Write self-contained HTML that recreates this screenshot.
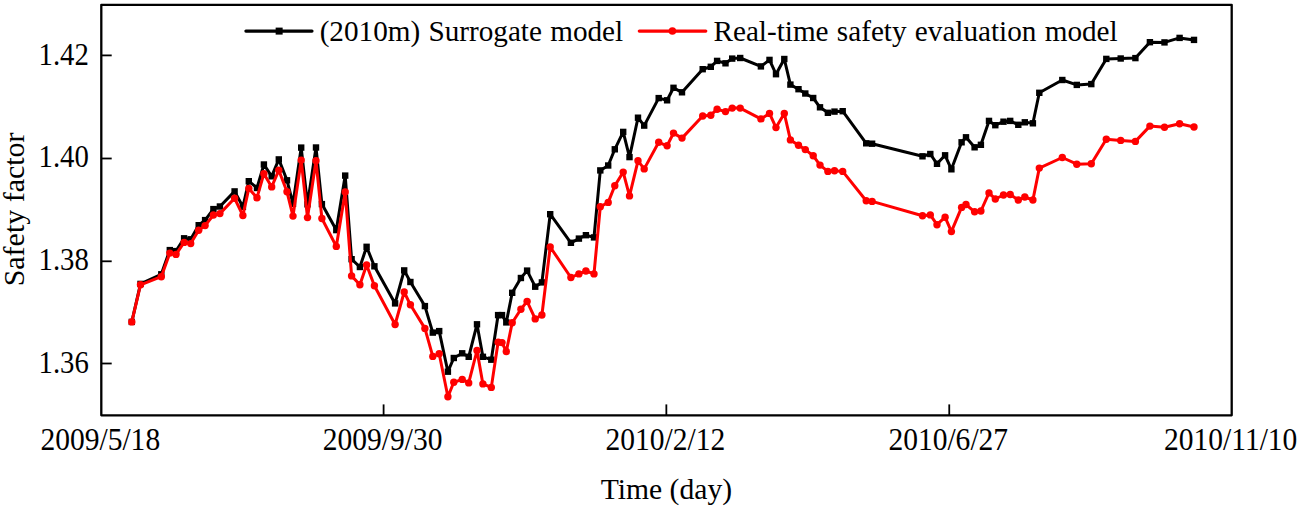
<!DOCTYPE html><html><head><meta charset="utf-8"><title>Safety factor</title>
<style>html,body{margin:0;padding:0;background:#fff;overflow:hidden}svg{display:block}text{font-family:"Liberation Serif","Times New Roman",serif;font-size:29.2px;fill:#000}</style></head><body>
<svg width="1301" height="509" viewBox="0 0 1301 509">
<rect width="1301" height="509" fill="#fff"/>
<rect x="101.3" y="4.8" width="1130.4" height="410.5" fill="none" stroke="#000" stroke-width="2.3" stroke-linejoin="round"/>
<line x1="101.3" y1="55.4" x2="111.7" y2="55.4" stroke="#000" stroke-width="1.8"/>
<text transform="translate(88.85 64.6) scale(0.985 1.055)" text-anchor="end">1.42</text>
<line x1="101.3" y1="158.5" x2="111.7" y2="158.5" stroke="#000" stroke-width="1.8"/>
<text transform="translate(88.85 167.35) scale(0.985 1.055)" text-anchor="end">1.40</text>
<line x1="101.3" y1="261.3" x2="111.7" y2="261.3" stroke="#000" stroke-width="1.8"/>
<text transform="translate(88.85 270.3) scale(0.985 1.055)" text-anchor="end">1.38</text>
<line x1="101.3" y1="363.5" x2="111.7" y2="363.5" stroke="#000" stroke-width="1.8"/>
<text transform="translate(88.85 372.5) scale(0.985 1.055)" text-anchor="end">1.36</text>
<text transform="translate(100.3 450.15) scale(1.011 1.055)" text-anchor="middle">2009/5/18</text>
<line x1="383.6" y1="415.3" x2="383.6" y2="404.40000000000003" stroke="#000" stroke-width="1.8"/>
<text transform="translate(382.6 450.15) scale(1.011 1.055)" text-anchor="middle">2009/9/30</text>
<line x1="666.35" y1="415.3" x2="666.35" y2="404.40000000000003" stroke="#000" stroke-width="1.8"/>
<text transform="translate(665.35 450.15) scale(1.011 1.055)" text-anchor="middle">2010/2/12</text>
<line x1="949.25" y1="415.3" x2="949.25" y2="404.40000000000003" stroke="#000" stroke-width="1.8"/>
<text transform="translate(948.25 450.15) scale(1.011 1.055)" text-anchor="middle">2010/6/27</text>
<text transform="translate(1230.7 450.15) scale(1.011 1.055)" text-anchor="middle">2010/11/10</text>
<text transform="translate(666.4 499.3) scale(1.0148 1.03)" text-anchor="middle">Time (day)</text>
<text transform="translate(23.9 209.4) rotate(-90) scale(1.027 1.0)" text-anchor="middle">Safety factor</text>
<polyline points="131.8,321.9 140.5,283.9 161.3,274.3 169.8,250.1 176.0,251.1 184.1,238.3 190.7,239.3 198.7,225.2 205.1,220.1 213.4,209.1 219.9,206.5 234.6,191.4 242.9,206.8 248.8,181.2 257.0,188.0 263.9,164.5 271.7,176.3 278.8,159.4 287.0,180.3 293.0,203.8 301.2,147.6 307.5,204.3 316.0,147.5 321.9,204.1 336.3,230.1 345.2,175.6 351.6,259.2 359.9,267.0 366.6,246.8 374.4,266.3 395.1,303.4 404.2,270.4 410.4,282.0 424.9,306.1 432.8,332.6 439.2,331.1 447.9,371.7 453.8,358.0 462.2,353.3 468.7,356.8 477.0,324.3 482.9,356.8 491.3,359.7 498.1,315.1 502.0,315.1 506.3,322.4 512.2,292.8 520.9,278.0 527.1,270.6 535.2,286.7 541.9,282.4 550.2,214.2 570.9,242.8 578.9,238.6 585.9,235.2 594.0,237.4 600.3,170.4 608.2,165.5 614.8,149.3 623.2,131.9 629.5,157.1 638.0,117.7 644.2,125.6 658.7,98.1 667.1,100.3 673.5,87.8 682.0,92.3 702.7,69.2 710.8,66.8 717.1,60.9 725.5,63.3 732.2,58.6 740.2,58.0 760.9,66.4 769.5,59.9 776.0,74.2 784.3,59.0 790.4,84.6 798.5,89.2 805.3,93.5 813.2,98.0 820.0,107.3 827.9,112.8 834.5,111.6 842.7,111.2 866.2,143.3 872.1,143.7 922.5,156.3 930.3,154.0 937.0,163.8 945.1,155.3 951.4,169.3 961.6,142.3 966.0,137.3 974.6,147.3 980.9,144.8 989.0,120.9 995.3,125.2 1003.5,121.7 1010.2,120.9 1018.3,124.8 1024.8,122.3 1032.9,123.3 1039.3,92.8 1062.3,80.0 1076.8,84.9 1091.3,84.1 1106.3,58.9 1120.7,58.5 1135.4,58.1 1149.9,42.2 1164.5,42.4 1179.6,37.9 1194.0,39.9" fill="none" stroke="#000" stroke-width="3" stroke-linejoin="round" stroke-linecap="round"/>
<rect x="128.6" y="318.7" width="6.4" height="6.4" fill="#000"/>
<rect x="137.3" y="280.7" width="6.4" height="6.4" fill="#000"/>
<rect x="158.1" y="271.1" width="6.4" height="6.4" fill="#000"/>
<rect x="166.6" y="246.9" width="6.4" height="6.4" fill="#000"/>
<rect x="172.8" y="247.9" width="6.4" height="6.4" fill="#000"/>
<rect x="180.9" y="235.1" width="6.4" height="6.4" fill="#000"/>
<rect x="187.5" y="236.1" width="6.4" height="6.4" fill="#000"/>
<rect x="195.5" y="222.0" width="6.4" height="6.4" fill="#000"/>
<rect x="201.9" y="216.9" width="6.4" height="6.4" fill="#000"/>
<rect x="210.2" y="205.9" width="6.4" height="6.4" fill="#000"/>
<rect x="216.7" y="203.3" width="6.4" height="6.4" fill="#000"/>
<rect x="231.4" y="188.2" width="6.4" height="6.4" fill="#000"/>
<rect x="239.7" y="203.6" width="6.4" height="6.4" fill="#000"/>
<rect x="245.6" y="178.0" width="6.4" height="6.4" fill="#000"/>
<rect x="253.8" y="184.8" width="6.4" height="6.4" fill="#000"/>
<rect x="260.7" y="161.3" width="6.4" height="6.4" fill="#000"/>
<rect x="268.5" y="173.1" width="6.4" height="6.4" fill="#000"/>
<rect x="275.6" y="156.2" width="6.4" height="6.4" fill="#000"/>
<rect x="283.8" y="177.1" width="6.4" height="6.4" fill="#000"/>
<rect x="289.8" y="200.6" width="6.4" height="6.4" fill="#000"/>
<rect x="298.0" y="144.4" width="6.4" height="6.4" fill="#000"/>
<rect x="304.3" y="201.1" width="6.4" height="6.4" fill="#000"/>
<rect x="312.8" y="144.3" width="6.4" height="6.4" fill="#000"/>
<rect x="318.7" y="200.9" width="6.4" height="6.4" fill="#000"/>
<rect x="333.1" y="226.9" width="6.4" height="6.4" fill="#000"/>
<rect x="342.0" y="172.4" width="6.4" height="6.4" fill="#000"/>
<rect x="348.4" y="256.0" width="6.4" height="6.4" fill="#000"/>
<rect x="356.7" y="263.8" width="6.4" height="6.4" fill="#000"/>
<rect x="363.4" y="243.6" width="6.4" height="6.4" fill="#000"/>
<rect x="371.2" y="263.1" width="6.4" height="6.4" fill="#000"/>
<rect x="391.9" y="300.2" width="6.4" height="6.4" fill="#000"/>
<rect x="401.0" y="267.2" width="6.4" height="6.4" fill="#000"/>
<rect x="407.2" y="278.8" width="6.4" height="6.4" fill="#000"/>
<rect x="421.7" y="302.9" width="6.4" height="6.4" fill="#000"/>
<rect x="429.6" y="329.4" width="6.4" height="6.4" fill="#000"/>
<rect x="436.0" y="327.9" width="6.4" height="6.4" fill="#000"/>
<rect x="444.7" y="368.5" width="6.4" height="6.4" fill="#000"/>
<rect x="450.6" y="354.8" width="6.4" height="6.4" fill="#000"/>
<rect x="459.0" y="350.1" width="6.4" height="6.4" fill="#000"/>
<rect x="465.5" y="353.6" width="6.4" height="6.4" fill="#000"/>
<rect x="473.8" y="321.1" width="6.4" height="6.4" fill="#000"/>
<rect x="479.7" y="353.6" width="6.4" height="6.4" fill="#000"/>
<rect x="488.1" y="356.5" width="6.4" height="6.4" fill="#000"/>
<rect x="494.9" y="311.9" width="6.4" height="6.4" fill="#000"/>
<rect x="498.8" y="311.9" width="6.4" height="6.4" fill="#000"/>
<rect x="503.1" y="319.2" width="6.4" height="6.4" fill="#000"/>
<rect x="509.0" y="289.6" width="6.4" height="6.4" fill="#000"/>
<rect x="517.7" y="274.8" width="6.4" height="6.4" fill="#000"/>
<rect x="523.9" y="267.4" width="6.4" height="6.4" fill="#000"/>
<rect x="532.0" y="283.5" width="6.4" height="6.4" fill="#000"/>
<rect x="538.7" y="279.2" width="6.4" height="6.4" fill="#000"/>
<rect x="547.0" y="211.0" width="6.4" height="6.4" fill="#000"/>
<rect x="567.7" y="239.6" width="6.4" height="6.4" fill="#000"/>
<rect x="575.7" y="235.4" width="6.4" height="6.4" fill="#000"/>
<rect x="582.7" y="232.0" width="6.4" height="6.4" fill="#000"/>
<rect x="590.8" y="234.2" width="6.4" height="6.4" fill="#000"/>
<rect x="597.1" y="167.2" width="6.4" height="6.4" fill="#000"/>
<rect x="605.0" y="162.3" width="6.4" height="6.4" fill="#000"/>
<rect x="611.6" y="146.1" width="6.4" height="6.4" fill="#000"/>
<rect x="620.0" y="128.7" width="6.4" height="6.4" fill="#000"/>
<rect x="626.3" y="153.9" width="6.4" height="6.4" fill="#000"/>
<rect x="634.8" y="114.5" width="6.4" height="6.4" fill="#000"/>
<rect x="641.0" y="122.4" width="6.4" height="6.4" fill="#000"/>
<rect x="655.5" y="94.9" width="6.4" height="6.4" fill="#000"/>
<rect x="663.9" y="97.1" width="6.4" height="6.4" fill="#000"/>
<rect x="670.3" y="84.6" width="6.4" height="6.4" fill="#000"/>
<rect x="678.8" y="89.1" width="6.4" height="6.4" fill="#000"/>
<rect x="699.5" y="66.0" width="6.4" height="6.4" fill="#000"/>
<rect x="707.6" y="63.6" width="6.4" height="6.4" fill="#000"/>
<rect x="713.9" y="57.7" width="6.4" height="6.4" fill="#000"/>
<rect x="722.3" y="60.1" width="6.4" height="6.4" fill="#000"/>
<rect x="729.0" y="55.4" width="6.4" height="6.4" fill="#000"/>
<rect x="737.0" y="54.8" width="6.4" height="6.4" fill="#000"/>
<rect x="757.7" y="63.2" width="6.4" height="6.4" fill="#000"/>
<rect x="766.3" y="56.7" width="6.4" height="6.4" fill="#000"/>
<rect x="772.8" y="71.0" width="6.4" height="6.4" fill="#000"/>
<rect x="781.1" y="55.8" width="6.4" height="6.4" fill="#000"/>
<rect x="787.2" y="81.4" width="6.4" height="6.4" fill="#000"/>
<rect x="795.3" y="86.0" width="6.4" height="6.4" fill="#000"/>
<rect x="802.1" y="90.3" width="6.4" height="6.4" fill="#000"/>
<rect x="810.0" y="94.8" width="6.4" height="6.4" fill="#000"/>
<rect x="816.8" y="104.1" width="6.4" height="6.4" fill="#000"/>
<rect x="824.7" y="109.6" width="6.4" height="6.4" fill="#000"/>
<rect x="831.3" y="108.4" width="6.4" height="6.4" fill="#000"/>
<rect x="839.5" y="108.0" width="6.4" height="6.4" fill="#000"/>
<rect x="863.0" y="140.1" width="6.4" height="6.4" fill="#000"/>
<rect x="868.9" y="140.5" width="6.4" height="6.4" fill="#000"/>
<rect x="919.3" y="153.1" width="6.4" height="6.4" fill="#000"/>
<rect x="927.1" y="150.8" width="6.4" height="6.4" fill="#000"/>
<rect x="933.8" y="160.6" width="6.4" height="6.4" fill="#000"/>
<rect x="941.9" y="152.1" width="6.4" height="6.4" fill="#000"/>
<rect x="948.2" y="166.1" width="6.4" height="6.4" fill="#000"/>
<rect x="958.4" y="139.1" width="6.4" height="6.4" fill="#000"/>
<rect x="962.8" y="134.1" width="6.4" height="6.4" fill="#000"/>
<rect x="971.4" y="144.1" width="6.4" height="6.4" fill="#000"/>
<rect x="977.7" y="141.6" width="6.4" height="6.4" fill="#000"/>
<rect x="985.8" y="117.7" width="6.4" height="6.4" fill="#000"/>
<rect x="992.1" y="122.0" width="6.4" height="6.4" fill="#000"/>
<rect x="1000.3" y="118.5" width="6.4" height="6.4" fill="#000"/>
<rect x="1007.0" y="117.7" width="6.4" height="6.4" fill="#000"/>
<rect x="1015.1" y="121.6" width="6.4" height="6.4" fill="#000"/>
<rect x="1021.6" y="119.1" width="6.4" height="6.4" fill="#000"/>
<rect x="1029.7" y="120.1" width="6.4" height="6.4" fill="#000"/>
<rect x="1036.1" y="89.6" width="6.4" height="6.4" fill="#000"/>
<rect x="1059.1" y="76.8" width="6.4" height="6.4" fill="#000"/>
<rect x="1073.6" y="81.7" width="6.4" height="6.4" fill="#000"/>
<rect x="1088.1" y="80.9" width="6.4" height="6.4" fill="#000"/>
<rect x="1103.1" y="55.7" width="6.4" height="6.4" fill="#000"/>
<rect x="1117.5" y="55.3" width="6.4" height="6.4" fill="#000"/>
<rect x="1132.2" y="54.9" width="6.4" height="6.4" fill="#000"/>
<rect x="1146.7" y="39.0" width="6.4" height="6.4" fill="#000"/>
<rect x="1161.3" y="39.2" width="6.4" height="6.4" fill="#000"/>
<rect x="1176.4" y="34.7" width="6.4" height="6.4" fill="#000"/>
<rect x="1190.8" y="36.7" width="6.4" height="6.4" fill="#000"/>
<polyline points="131.8,321.9 140.5,284.8 161.3,276.7 169.8,253.1 176.0,254.4 184.1,242.4 190.7,243.6 198.7,230.2 205.1,225.6 213.4,215.0 219.9,213.6 234.6,198.3 242.9,215.5 248.8,188.4 257.0,197.7 263.9,173.7 271.7,186.9 278.8,170.2 287.0,191.8 293.0,216.1 301.2,160.1 307.5,217.6 316.0,160.8 321.9,218.5 336.3,246.4 345.2,191.9 351.6,275.9 359.9,284.7 366.6,264.9 374.4,285.8 395.1,324.5 404.2,292.0 410.4,304.8 424.9,328.4 432.8,356.4 439.2,353.8 447.9,396.7 453.8,382.3 462.2,379.4 468.7,382.9 477.0,350.5 482.9,383.9 491.3,387.4 498.1,342.2 502.0,342.6 506.3,351.5 512.2,322.8 520.9,309.3 527.1,301.4 535.2,318.9 541.9,315.0 550.2,247.0 570.9,277.5 578.9,273.9 585.9,271.0 594.0,273.9 600.3,206.7 608.2,202.4 614.8,185.7 623.2,172.1 629.5,195.9 638.0,160.8 644.2,168.9 658.7,142.3 667.1,145.8 673.5,133.1 682.0,138.1 702.7,116.0 710.8,115.2 717.1,109.2 725.5,111.6 732.2,108.1 740.2,108.1 760.9,118.9 769.5,113.4 776.0,127.6 784.3,113.5 790.4,139.9 798.5,145.3 805.3,149.6 813.2,155.7 820.0,165.1 827.9,171.4 834.5,170.8 842.7,171.4 866.2,200.8 872.1,201.4 922.5,215.8 930.3,214.9 937.0,224.7 945.1,217.2 951.4,231.6 961.6,207.4 966.0,204.5 974.6,211.8 980.9,211.0 989.0,192.9 995.3,199.0 1003.5,195.0 1010.2,194.5 1018.3,200.0 1024.8,197.0 1032.9,200.0 1039.3,168.1 1062.3,157.5 1076.8,164.2 1091.3,163.8 1106.3,139.3 1120.7,140.4 1135.4,141.4 1149.9,126.1 1164.5,127.2 1179.6,123.7 1194.0,127.0" fill="none" stroke="#ff0000" stroke-width="3" stroke-linejoin="round" stroke-linecap="round"/>
<circle cx="131.8" cy="321.9" r="3.7" fill="#ff0000"/>
<circle cx="140.5" cy="284.8" r="3.7" fill="#ff0000"/>
<circle cx="161.3" cy="276.7" r="3.7" fill="#ff0000"/>
<circle cx="169.8" cy="253.1" r="3.7" fill="#ff0000"/>
<circle cx="176.0" cy="254.4" r="3.7" fill="#ff0000"/>
<circle cx="184.1" cy="242.4" r="3.7" fill="#ff0000"/>
<circle cx="190.7" cy="243.6" r="3.7" fill="#ff0000"/>
<circle cx="198.7" cy="230.2" r="3.7" fill="#ff0000"/>
<circle cx="205.1" cy="225.6" r="3.7" fill="#ff0000"/>
<circle cx="213.4" cy="215.0" r="3.7" fill="#ff0000"/>
<circle cx="219.9" cy="213.6" r="3.7" fill="#ff0000"/>
<circle cx="234.6" cy="198.3" r="3.7" fill="#ff0000"/>
<circle cx="242.9" cy="215.5" r="3.7" fill="#ff0000"/>
<circle cx="248.8" cy="188.4" r="3.7" fill="#ff0000"/>
<circle cx="257.0" cy="197.7" r="3.7" fill="#ff0000"/>
<circle cx="263.9" cy="173.7" r="3.7" fill="#ff0000"/>
<circle cx="271.7" cy="186.9" r="3.7" fill="#ff0000"/>
<circle cx="278.8" cy="170.2" r="3.7" fill="#ff0000"/>
<circle cx="287.0" cy="191.8" r="3.7" fill="#ff0000"/>
<circle cx="293.0" cy="216.1" r="3.7" fill="#ff0000"/>
<circle cx="301.2" cy="160.1" r="3.7" fill="#ff0000"/>
<circle cx="307.5" cy="217.6" r="3.7" fill="#ff0000"/>
<circle cx="316.0" cy="160.8" r="3.7" fill="#ff0000"/>
<circle cx="321.9" cy="218.5" r="3.7" fill="#ff0000"/>
<circle cx="336.3" cy="246.4" r="3.7" fill="#ff0000"/>
<circle cx="345.2" cy="191.9" r="3.7" fill="#ff0000"/>
<circle cx="351.6" cy="275.9" r="3.7" fill="#ff0000"/>
<circle cx="359.9" cy="284.7" r="3.7" fill="#ff0000"/>
<circle cx="366.6" cy="264.9" r="3.7" fill="#ff0000"/>
<circle cx="374.4" cy="285.8" r="3.7" fill="#ff0000"/>
<circle cx="395.1" cy="324.5" r="3.7" fill="#ff0000"/>
<circle cx="404.2" cy="292.0" r="3.7" fill="#ff0000"/>
<circle cx="410.4" cy="304.8" r="3.7" fill="#ff0000"/>
<circle cx="424.9" cy="328.4" r="3.7" fill="#ff0000"/>
<circle cx="432.8" cy="356.4" r="3.7" fill="#ff0000"/>
<circle cx="439.2" cy="353.8" r="3.7" fill="#ff0000"/>
<circle cx="447.9" cy="396.7" r="3.7" fill="#ff0000"/>
<circle cx="453.8" cy="382.3" r="3.7" fill="#ff0000"/>
<circle cx="462.2" cy="379.4" r="3.7" fill="#ff0000"/>
<circle cx="468.7" cy="382.9" r="3.7" fill="#ff0000"/>
<circle cx="477.0" cy="350.5" r="3.7" fill="#ff0000"/>
<circle cx="482.9" cy="383.9" r="3.7" fill="#ff0000"/>
<circle cx="491.3" cy="387.4" r="3.7" fill="#ff0000"/>
<circle cx="498.1" cy="342.2" r="3.7" fill="#ff0000"/>
<circle cx="502.0" cy="342.6" r="3.7" fill="#ff0000"/>
<circle cx="506.3" cy="351.5" r="3.7" fill="#ff0000"/>
<circle cx="512.2" cy="322.8" r="3.7" fill="#ff0000"/>
<circle cx="520.9" cy="309.3" r="3.7" fill="#ff0000"/>
<circle cx="527.1" cy="301.4" r="3.7" fill="#ff0000"/>
<circle cx="535.2" cy="318.9" r="3.7" fill="#ff0000"/>
<circle cx="541.9" cy="315.0" r="3.7" fill="#ff0000"/>
<circle cx="550.2" cy="247.0" r="3.7" fill="#ff0000"/>
<circle cx="570.9" cy="277.5" r="3.7" fill="#ff0000"/>
<circle cx="578.9" cy="273.9" r="3.7" fill="#ff0000"/>
<circle cx="585.9" cy="271.0" r="3.7" fill="#ff0000"/>
<circle cx="594.0" cy="273.9" r="3.7" fill="#ff0000"/>
<circle cx="600.3" cy="206.7" r="3.7" fill="#ff0000"/>
<circle cx="608.2" cy="202.4" r="3.7" fill="#ff0000"/>
<circle cx="614.8" cy="185.7" r="3.7" fill="#ff0000"/>
<circle cx="623.2" cy="172.1" r="3.7" fill="#ff0000"/>
<circle cx="629.5" cy="195.9" r="3.7" fill="#ff0000"/>
<circle cx="638.0" cy="160.8" r="3.7" fill="#ff0000"/>
<circle cx="644.2" cy="168.9" r="3.7" fill="#ff0000"/>
<circle cx="658.7" cy="142.3" r="3.7" fill="#ff0000"/>
<circle cx="667.1" cy="145.8" r="3.7" fill="#ff0000"/>
<circle cx="673.5" cy="133.1" r="3.7" fill="#ff0000"/>
<circle cx="682.0" cy="138.1" r="3.7" fill="#ff0000"/>
<circle cx="702.7" cy="116.0" r="3.7" fill="#ff0000"/>
<circle cx="710.8" cy="115.2" r="3.7" fill="#ff0000"/>
<circle cx="717.1" cy="109.2" r="3.7" fill="#ff0000"/>
<circle cx="725.5" cy="111.6" r="3.7" fill="#ff0000"/>
<circle cx="732.2" cy="108.1" r="3.7" fill="#ff0000"/>
<circle cx="740.2" cy="108.1" r="3.7" fill="#ff0000"/>
<circle cx="760.9" cy="118.9" r="3.7" fill="#ff0000"/>
<circle cx="769.5" cy="113.4" r="3.7" fill="#ff0000"/>
<circle cx="776.0" cy="127.6" r="3.7" fill="#ff0000"/>
<circle cx="784.3" cy="113.5" r="3.7" fill="#ff0000"/>
<circle cx="790.4" cy="139.9" r="3.7" fill="#ff0000"/>
<circle cx="798.5" cy="145.3" r="3.7" fill="#ff0000"/>
<circle cx="805.3" cy="149.6" r="3.7" fill="#ff0000"/>
<circle cx="813.2" cy="155.7" r="3.7" fill="#ff0000"/>
<circle cx="820.0" cy="165.1" r="3.7" fill="#ff0000"/>
<circle cx="827.9" cy="171.4" r="3.7" fill="#ff0000"/>
<circle cx="834.5" cy="170.8" r="3.7" fill="#ff0000"/>
<circle cx="842.7" cy="171.4" r="3.7" fill="#ff0000"/>
<circle cx="866.2" cy="200.8" r="3.7" fill="#ff0000"/>
<circle cx="872.1" cy="201.4" r="3.7" fill="#ff0000"/>
<circle cx="922.5" cy="215.8" r="3.7" fill="#ff0000"/>
<circle cx="930.3" cy="214.9" r="3.7" fill="#ff0000"/>
<circle cx="937.0" cy="224.7" r="3.7" fill="#ff0000"/>
<circle cx="945.1" cy="217.2" r="3.7" fill="#ff0000"/>
<circle cx="951.4" cy="231.6" r="3.7" fill="#ff0000"/>
<circle cx="961.6" cy="207.4" r="3.7" fill="#ff0000"/>
<circle cx="966.0" cy="204.5" r="3.7" fill="#ff0000"/>
<circle cx="974.6" cy="211.8" r="3.7" fill="#ff0000"/>
<circle cx="980.9" cy="211.0" r="3.7" fill="#ff0000"/>
<circle cx="989.0" cy="192.9" r="3.7" fill="#ff0000"/>
<circle cx="995.3" cy="199.0" r="3.7" fill="#ff0000"/>
<circle cx="1003.5" cy="195.0" r="3.7" fill="#ff0000"/>
<circle cx="1010.2" cy="194.5" r="3.7" fill="#ff0000"/>
<circle cx="1018.3" cy="200.0" r="3.7" fill="#ff0000"/>
<circle cx="1024.8" cy="197.0" r="3.7" fill="#ff0000"/>
<circle cx="1032.9" cy="200.0" r="3.7" fill="#ff0000"/>
<circle cx="1039.3" cy="168.1" r="3.7" fill="#ff0000"/>
<circle cx="1062.3" cy="157.5" r="3.7" fill="#ff0000"/>
<circle cx="1076.8" cy="164.2" r="3.7" fill="#ff0000"/>
<circle cx="1091.3" cy="163.8" r="3.7" fill="#ff0000"/>
<circle cx="1106.3" cy="139.3" r="3.7" fill="#ff0000"/>
<circle cx="1120.7" cy="140.4" r="3.7" fill="#ff0000"/>
<circle cx="1135.4" cy="141.4" r="3.7" fill="#ff0000"/>
<circle cx="1149.9" cy="126.1" r="3.7" fill="#ff0000"/>
<circle cx="1164.5" cy="127.2" r="3.7" fill="#ff0000"/>
<circle cx="1179.6" cy="123.7" r="3.7" fill="#ff0000"/>
<circle cx="1194.0" cy="127.0" r="3.7" fill="#ff0000"/>
<line x1="245.9" y1="31.1" x2="312.0" y2="31.1" stroke="#000" stroke-width="3.2" stroke-linecap="round"/>
<rect x="275.65" y="27.6" width="7" height="7" fill="#000"/>
<text transform="translate(319.65 40.6) scale(1.0 1.03)" text-anchor="start" style="word-spacing:1.0px">(2010m) Surrogate model</text>
<line x1="639.3" y1="31.05" x2="705.8" y2="31.05" stroke="#ff0000" stroke-width="3.2" stroke-linecap="round"/>
<circle cx="672.4" cy="31.05" r="3.8" fill="#ff0000"/>
<text transform="translate(713.5 40.6) scale(1.0 1.03)" text-anchor="start" style="word-spacing:1.0px">Real-time safety evaluation model</text>
</svg></body></html>
